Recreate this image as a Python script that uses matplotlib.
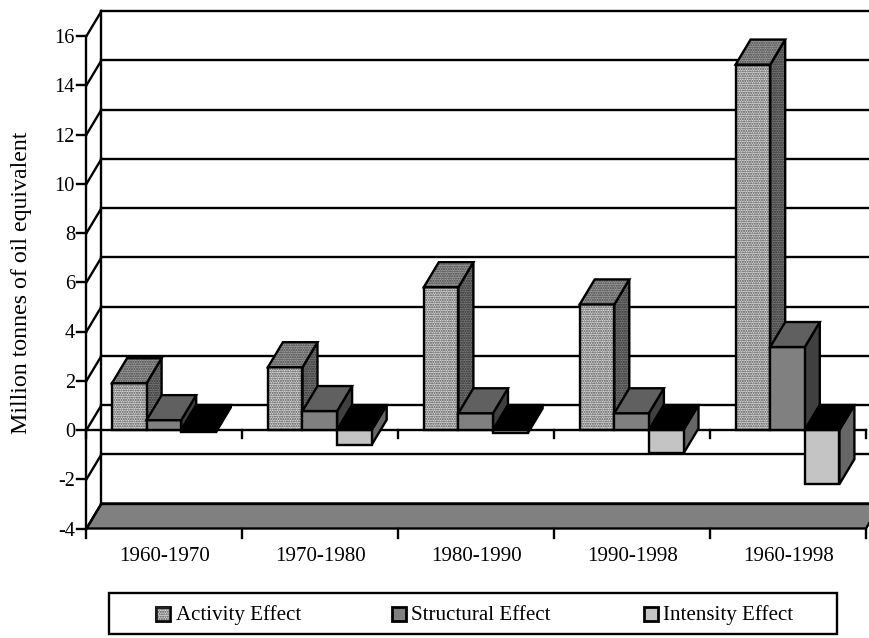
import matplotlib
matplotlib.use('Agg')
import matplotlib.pyplot as plt
from matplotlib.patches import Polygon, Rectangle

plt.rcParams['font.family'] = ['Liberation Serif', 'DejaVu Serif']

categories = ['1960-1970', '1970-1980', '1980-1990', '1990-1998', '1960-1998']
activity = [1.9, 2.55, 5.8, 5.1, 14.84]
structural = [0.4, 0.77, 0.68, 0.68, 3.37]
intensity = [-0.1, -0.6, -0.14, -0.95, -2.2]
y_ticks = [-4, -2, 0, 2, 4, 6, 8, 10, 12, 14, 16]
series_names = ['Activity Effect', 'Structural Effect', 'Intensity Effect']

W, H = 870, 638
LEFT, RIGHT, TOP, BOTTOM = 86.5, 866, 36, 528.5
LW = 1.7
FS = 15.1

fig = plt.figure(figsize=(W / 100, H / 100), dpi=100)
ax = fig.add_axes([LEFT / W, 1 - BOTTOM / H, (RIGHT - LEFT) / W, (BOTTOM - TOP) / H])
ax.set_xlim(0, len(categories))
ax.set_ylim(-4, 16)
ax.axis('off')

# profondeur de la pseudo 3D, en unites de donnees
px_x = (RIGHT - LEFT) / len(categories)
px_y = (BOTTOM - TOP) / 20
dx = 15 / px_x
dy = 25 / px_y
bar_w = 34.6 / px_x
first_off = 25.5 / px_x


def face(pts, color, stipple=None, z=3):
    ax.add_patch(Polygon(pts, closed=True, facecolor=color, edgecolor='none', lw=0, zorder=z, clip_on=False))
    if stipple:
        ax.add_patch(Polygon(pts, closed=True, facecolor='none', edgecolor=stipple, hatch='.......', lw=0, zorder=z, clip_on=False))
    ax.add_patch(Polygon(pts, closed=True, facecolor='none', edgecolor='black', lw=LW, zorder=z, clip_on=False, joinstyle='miter'))


def line(xs, ys, z=2, lw=LW):
    ax.plot(xs, ys, color='black', lw=lw, zorder=z, clip_on=False, solid_capstyle='projecting')


# sol
face([(0, -4), (dx, -4 + dy), (5 + dx, -4 + dy), (5, -4)], '#808080', z=1)

# murs et grille
line([dx, dx], [-4 + dy, 16 + dy])
line([0, 0], [-4, 16])
for t in y_ticks:
    line([dx, 5 + dx], [t + dy, t + dy])
    line([0, dx], [t, t + dy])
    ax.plot([-9.5 / px_x, 0], [t, t], color='black', lw=LW, zorder=2, clip_on=False)
    ax.text(-11.5 / px_x, t, str(t), ha='right', va='center_baseline', fontsize=FS - 0.4)

# axe du zero et axe du bas
line([0, 5], [0, 0])
for i in range(len(categories) + 1):
    ax.plot([i, i], [0, -8 / px_y], color='black', lw=LW, zorder=2, clip_on=False)
    ax.plot([i, i], [-4, -4 - 9 / px_y], color='black', lw=LW, zorder=2, clip_on=False)
for i, name in enumerate(categories):
    ax.text(i + 0.5, -4 - 28 / px_y, name, ha='center', va='center', fontsize=FS)

fig.text(22 / W, 1 - 283 / H, 'Million tonnes of oil equivalent', rotation=90,
         ha='center', va='center', fontsize=17.2)

# couleurs: face, dessus, cote, et le pointille de chaque
styles = [
    {'front': '#dcdcdc', 'top': '#a0a0a0', 'side': '#7a7a7a', 'st_front': '#484848', 'st_top': '#404040', 'st_side': '#2c2c2c'},
    {'front': '#808080', 'top': '#606060', 'side': '#404040', 'st_front': None, 'st_top': None, 'st_side': None},
    {'front': '#c4c4c4', 'top': '#000000', 'side': '#666666', 'st_front': None, 'st_top': None, 'st_side': None},
]

for i in range(len(categories)):
    for s, values in enumerate([activity, structural, intensity]):
        v = values[i]
        st = styles[s]
        x0 = i + first_off + s * bar_w
        x1 = x0 + bar_w
        top = max(v, 0)
        low = min(v, 0)
        z = 3 + i * 3 + s
        face([(x1, low), (x1 + dx, low + dy), (x1 + dx, top + dy), (x1, top)], st['side'], st['st_side'], z=z)
        face([(x0, low), (x1, low), (x1, top), (x0, top)], st['front'], st['st_front'], z=z)
        face([(x0, top), (x0 + dx, top + dy), (x1 + dx, top + dy), (x1, top)], st['top'], st['st_top'], z=z)

# legende
fig.add_artist(Rectangle((109 / W, 1 - 634 / H), 728 / W, 41 / H, transform=fig.transFigure,
                         facecolor='white', edgecolor='black', lw=LW))
handle_x = [156, 392.5, 644]
label_x = [176, 411.5, 663]
for s, name in enumerate(series_names):
    st = styles[s]
    fig.add_artist(Rectangle((handle_x[s] / W, 1 - 621 / H), 14 / W, 14 / H, transform=fig.transFigure,
                             facecolor=st['front'], edgecolor='black', lw=2.0))
    if st['st_front']:
        fig.add_artist(Rectangle((handle_x[s] / W, 1 - 621 / H), 14 / W, 14 / H, transform=fig.transFigure,
                                 facecolor='none', edgecolor=st['st_front'], hatch='.......', lw=0))
    fig.text(label_x[s] / W, 1 - 615 / H, name, ha='left', va='center', fontsize=FS)

fig.savefig('out.png', dpi=100)
